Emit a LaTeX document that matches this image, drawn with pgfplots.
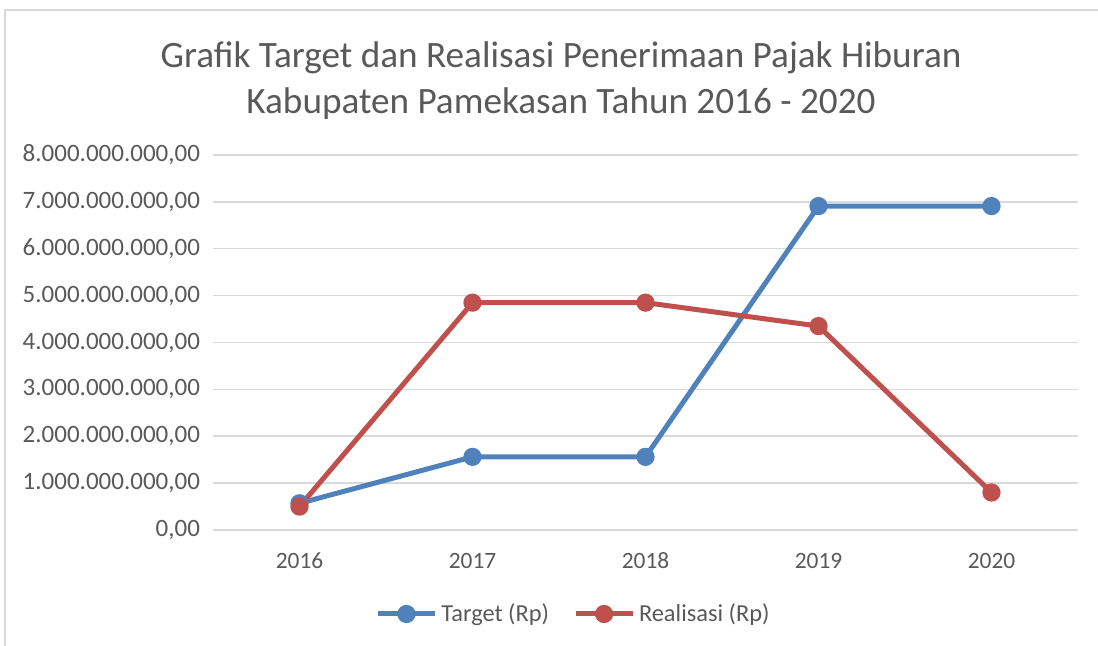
\documentclass[border=0pt]{standalone}
\usepackage{fontspec}
\setmainfont{Carlito}
\usepackage{pgfplots}
\pgfplotsset{compat=1.18}
\definecolor{tblue}{HTML}{4F81BD}
\definecolor{tred}{HTML}{C0504D}
\definecolor{gridgray}{HTML}{D9D9D9}
\definecolor{txtgray}{HTML}{595959}

\begin{document}
\begin{tikzpicture}
\useasboundingbox (-106.5pt,-58pt) rectangle (442.5pt,265pt);
\draw[gridgray,line width=0.8pt] (-104pt,-58pt) -- (-104pt,260pt) -- (442.5pt,260pt);
\node[txtgray,font=\fontsize{18.6}{23}\selectfont,align=center] at (174pt,224.5pt)
  {Grafik Target dan Realisasi Penerimaan Pajak Hiburan\\Kabupaten Pamekasan Tahun 2016 - 2020};
\begin{axis}[
  at={(0,0)},anchor=south west,
  scale only axis,width=432.5pt,height=187.5pt,
  xmin=-0.5,xmax=4.5,ymin=0,ymax=8000000000,
  xtick={0,1,2,3,4},xticklabels={2016,2017,2018,2019,2020},
  ytick={0,1000000000,2000000000,3000000000,4000000000,5000000000,6000000000,7000000000,8000000000},
  yticklabels={{0,00},{1.000.000.000,00},{2.000.000.000,00},{3.000.000.000,00},{4.000.000.000,00},{5.000.000.000,00},{6.000.000.000,00},{7.000.000.000,00},{8.000.000.000,00}},
  scaled y ticks=false,
  axis line style={draw=none},
  major tick length=0pt,
  ymajorgrids,
  grid style={gridgray,line width=0.75pt},
  tick label style={txtgray},
  yticklabel style={xshift=-3pt,font=\fontsize{12.5}{14}\selectfont},
  xticklabel style={yshift=-7pt,font=\fontsize{11.7}{14}\selectfont,text height=8.5pt,text depth=0pt},
  legend style={at={(0.418,-0.224)},anchor=center,draw=none,fill=none,
    legend columns=2,font=\fontsize{12.2}{14}\selectfont,text=txtgray,
    /tikz/every even column/.append style={column sep=10pt}},
  legend image code/.code={\draw[mark repeat=2,mark phase=2] plot coordinates {(0cm,0cm)(0.5cm,0cm)(1cm,0cm)};},
  clip=false,
]
\addplot[tblue,line width=2.5pt,mark=*,mark size=3.3pt,mark options={solid}]
  coordinates {(0,570000000)(1,1560000000)(2,1560000000)(3,6910000000)(4,6910000000)};
\addlegendentry{Target (Rp)}
\addplot[tred,line width=2.5pt,mark=*,mark size=3.3pt,mark options={solid}]
  coordinates {(0,500000000)(1,4850000000)(2,4850000000)(3,4350000000)(4,800000000)};
\addlegendentry{Realisasi (Rp)}
\end{axis}
\end{tikzpicture}
\end{document}
